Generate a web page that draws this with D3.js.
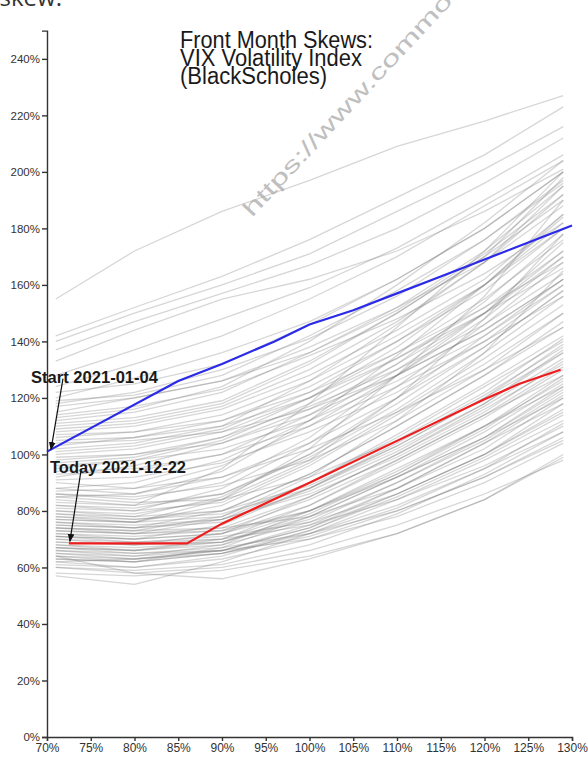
<!DOCTYPE html>
<html><head><meta charset="utf-8">
<script src="https://cdn.jsdelivr.net/npm/d3@7"></script>
<style>html,body{margin:0;padding:0;background:#fff;overflow:hidden}svg{display:block}</style>
</head><body>
<svg id="c" width="588" height="758"></svg>
<script>
const xTicks = [70,75,80,85,90,95,100,105,110,115,120,125,130];
const yTicks = [0,20,40,60,80,100,120,140,160,180,200,220,240];
const titleLines = ["Front Month Skews:", "VIX Volatility Index", "(BlackScholes)"];
const startLabel = "Start 2021-01-04";
const todayLabel = "Today 2021-12-22";
const watermark = "https://www.commodity.com";

const startStrikes = [70, 85, 90, 96, 100, 105, 110, 115, 120, 125, 130];
const startVols    = [101, 126, 132, 140, 146, 151, 157, 163, 169, 175, 181];
const todayStrikes = [72.5, 86, 90, 100, 110, 120, 124, 128.7];
const todayVols    = [68.5, 68.5, 75.5, 90, 104.8, 119.5, 125, 130];

const grayStrikes = [71, 80, 90, 100, 110, 120, 129];
const grayVols = [
 [155,172,186,197,209,218,227],
 [142,152,163,176,191,206,223],
 [140,150,160,171,186,201,216],
 [137,147,157,167,180,196,212],
 [133,144,155,162,172,186,201],
 [128,137,148,159,173,190,206],
 [124,132,142,155,170,188,204],
 [120,127,136,147,162,180,200],
 [118,122,130,141,156,176,196],
 [115,120,126,136,151,171,192],
 [92,96,104,116,132,150,170],
 [95,98,105,118,134,152,172],
 [98,100,106,117,130,146,164],
 [100,102,108,120,136,155,176],
 [103,106,112,124,140,158,180],
 [105,106,110,120,134,150,166],
 [108,110,116,128,144,162,185],
 [110,112,118,132,150,170,190],
 [112,115,122,136,152,172,195],
 [96,98,102,112,126,142,160],
 [102,104,110,126,146,168,195],
 [107,108,112,122,136,152,168],
 [113,116,124,140,160,182,204],
 [117,120,126,138,152,168,188],
 [94,95,100,110,124,140,156],
 [88,90,98,112,130,150,172],
 [91,92,97,108,122,140,160],
 [85,86,92,104,120,138,158],
 [87,88,96,110,128,148,170],
 [93,94,100,114,132,154,178],
 [97,99,106,120,138,160,184],
 [99,100,104,114,128,144,162],
 [101,103,109,122,140,160,182],
 [104,105,108,116,128,144,162],
 [106,108,114,126,142,160,180],
 [109,111,117,130,147,168,192],
 [111,113,119,133,150,170,198],
 [114,117,123,135,148,164,182],
 [119,121,128,142,158,176,197],
 [122,125,132,146,162,180,200],
 [80,79,84,98,120,148,178],
 [77,76,84,102,128,156,190],
 [74,73,78,92,112,136,165],
 [82,81,86,99,116,136,156],
 [86,85,89,98,112,130,150],
 [60,58,60,66,75,86,98],
 [58,57,59,64,72,84,100],
 [62,60,63,70,80,92,105],
 [57,54,62,72,82,95,108],
 [64,62,65,72,84,98,112],
 [61,60,64,73,86,100,115],
 [66,64,66,74,88,104,118],
 [63,62,67,78,92,106,120],
 [68,66,68,76,90,105,122],
 [65,64,68,80,95,110,124],
 [70,68,70,80,94,110,126],
 [67,66,70,82,98,114,128],
 [72,70,72,82,97,113,130],
 [69,68,72,85,100,116,132],
 [74,72,74,85,100,117,134],
 [71,70,75,88,103,120,136],
 [76,74,76,88,104,121,138],
 [73,72,77,90,106,124,140],
 [78,76,78,90,107,125,142],
 [75,74,80,93,110,128,145],
 [80,78,80,93,110,128,147],
 [77,76,82,96,114,132,150],
 [82,80,83,97,115,134,153],
 [79,78,85,100,118,138,158],
 [84,82,86,100,120,142,162],
 [81,80,88,104,124,146,168],
 [86,84,90,106,128,150,175],
 [88,86,94,112,135,160,185],
 [83,82,95,118,145,172,200],
 [90,88,92,102,115,130,145],
 [66,65,67,72,80,92,106],
 [70,69,71,76,86,100,116],
 [74,73,74,78,88,102,120],
 [62,63,66,74,86,100,118],
 [68,67,69,78,92,108,125],
 [72,71,73,84,98,114,131],
 [76,75,77,86,99,115,133],
 [64,63,66,75,88,104,121],
 [79,77,79,88,102,118,137],
 [85,83,84,92,105,122,141],
 [64,58,56,63,72,84,99],
 [71,69,70,75,84,96,110],
 [67,65,66,70,78,90,104],
 [73,72,73,80,93,109,127],
 [69,68,69,77,90,106,123],
 [63,62,65,73,85,99,114],
 [67,66,69,79,93,110,128],
 [71,70,72,80,92,106,124],
 [75,74,77,87,101,118,136],
 [78,77,80,89,103,120,139],
 [60,59,61,68,79,93,108],
 [65,63,65,71,81,95,111]
];

const svg = d3.select("#c");
const x = d3.scaleLinear().domain([70,130]).range([47,572]);
const y = d3.scaleLinear().domain([0,250]).range([737,30.6]);

// page text above the image (cut off)
svg.append("text").attr("x",62).attr("y",6).attr("text-anchor","end")
  .attr("font-family","Open Sans").attr("font-size",24).attr("fill","#333").text("skew.");

const line = d3.line().x(d=>x(d[0])).y(d=>y(d[1]));

const g = svg.append("g");
grayVols.forEach(v=>{
  g.append("path").attr("d", line(grayStrikes.map((s,i)=>[s,v[i]])))
   .attr("fill","none").attr("stroke","#777").attr("stroke-opacity",0.3).attr("stroke-width",1.3);
});

svg.append("path").attr("d", line(startStrikes.map((s,i)=>[s,startVols[i]])))
  .attr("fill","none").attr("stroke","#2a2ae8").attr("stroke-width",2.2);
svg.append("path").attr("d", line(todayStrikes.map((s,i)=>[s,todayVols[i]])))
  .attr("fill","none").attr("stroke","#ee1c1c").attr("stroke-width",2.2);

// axes
const yAxis = svg.append("g").attr("transform",`translate(${x(70)},0)`)
  .call(d3.axisLeft(y).tickValues(yTicks).tickFormat(d=>d+"%").tickSize(5).tickPadding(2));
const xAxis = svg.append("g").attr("transform",`translate(0,${y(0)})`)
  .call(d3.axisBottom(x).tickValues(xTicks).tickFormat(d=>d+"%").tickSize(4).tickPadding(2));
[yAxis,xAxis].forEach(a=>{
  a.selectAll("path,line").attr("stroke","#333").attr("stroke-width",1.4);
  a.selectAll("text").attr("font-family","Liberation Sans, Arial").attr("font-size",12).attr("fill","#333");
});
yAxis.selectAll("text").attr("font-size",11.5);

// title
const tt = svg.append("g").attr("font-family","Liberation Sans, Arial").attr("fill","#1a1a1a");
const tLens = [193,182,147];
titleLines.forEach((t,i)=>{
  tt.append("text").attr("x",180).attr("y",48+i*18).attr("font-size",23)
    .attr("textLength",tLens[i]).attr("lengthAdjust","spacingAndGlyphs").text(t);
});

// arrows
const defs = svg.append("defs");
defs.append("marker").attr("id","ah").attr("viewBox","0 0 10 10").attr("refX",9).attr("refY",5)
  .attr("markerWidth",7).attr("markerHeight",7).attr("orient","auto")
  .append("path").attr("d","M0,1L10,5L0,9Z").attr("fill","#111");
const sx = x(startStrikes[0]), sy = y(startVols[0]);
const tx = x(todayStrikes[0]), ty = y(todayVols[0]);
svg.append("line").attr("x1",sx+16).attr("y1",sy-73).attr("x2",sx+4).attr("y2",sy-2)
  .attr("stroke","#111").attr("stroke-width",1.2).attr("marker-end","url(#ah)");
svg.append("line").attr("x1",tx+12).attr("y1",ty-72).attr("x2",tx+1).attr("y2",ty-2)
  .attr("stroke","#111").attr("stroke-width",1.2).attr("marker-end","url(#ah)");
svg.append("text").attr("x",31).attr("y",383).attr("font-family","Liberation Sans, Arial")
  .attr("font-weight","bold").attr("font-size",17).attr("fill","#1a1a1a")
  .attr("textLength",127).attr("lengthAdjust","spacingAndGlyphs").text(startLabel);
svg.append("text").attr("x",50).attr("y",473).attr("font-family","Liberation Sans, Arial")
  .attr("font-weight","bold").attr("font-size",17).attr("fill","#1a1a1a")
  .attr("textLength",136).attr("lengthAdjust","spacingAndGlyphs").text(todayLabel);

// watermark
svg.append("text").attr("transform","translate(252,218) rotate(-47)")
  .attr("font-family","Liberation Sans, Arial").attr("font-size",22).attr("fill","#aaa").attr("fill-opacity",0.75)
  .attr("textLength",420).attr("lengthAdjust","spacingAndGlyphs").text(watermark);
</script>
</body></html>
